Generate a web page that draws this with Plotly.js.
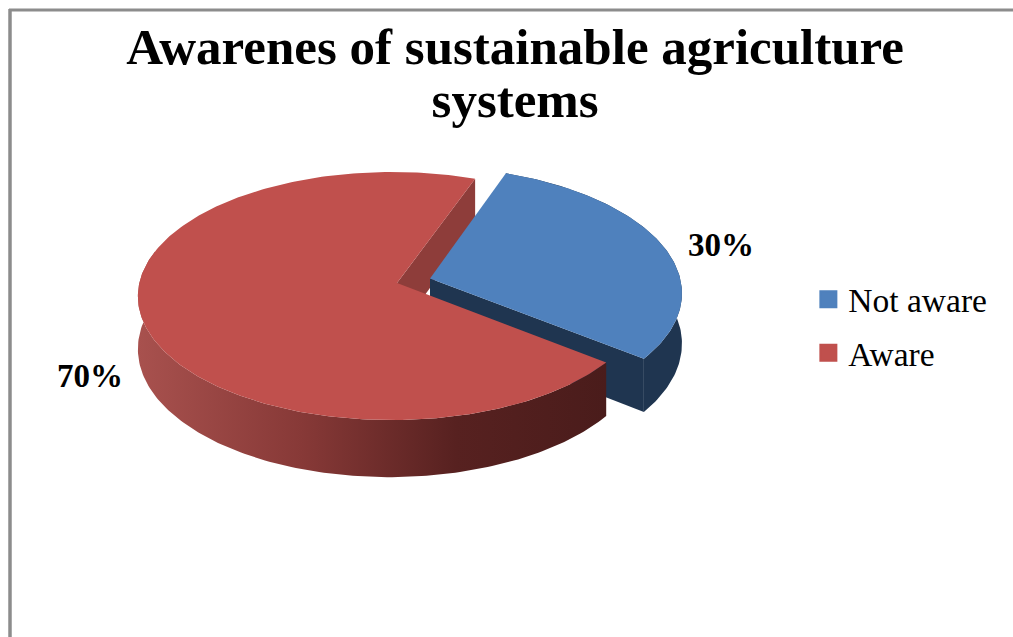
<!DOCTYPE html>
<html>
<head>
<meta charset="utf-8">
<script src="https://cdn.plot.ly/plotly-3.0.1.min.js"></script>
<style>html,body{margin:0;padding:0;background:#fff}#chart{width:1013px;height:637px}</style>
</head>
<body>
<div id="chart"></div>
<script>
// Survey shares
const categories = ['Not aware', 'Aware'];
const shares = [30, 70];

const chartTitle = 'Awarenes of sustainable agriculture<br>systems';
const topColors = ['#4f81bd', '#c0504d'];
const serif = '"Liberation Serif", serif';

// Tilted disc seen in perspective: plane coordinates -> axis coordinates
const view = {cx: 397, cy: 283, rx: 252.5, ry: 122.7, depthSkew: 0.105, sideSkew: 0.02, thickness: 51};
const firstSliceStart = 70;      // degrees, slices run clockwise
const pullOut = 0.137;           // explode distance of the first slice
const pulledScale = 1.02;        // the pulled-out slice sits nearer the viewer
const frontEdge = -195;          // rim wall of the large slice is hidden past this angle

function project(X, Y, drop) {
  const w = 1 + view.depthSkew * Y + view.sideSkew * X;
  return [view.cx + view.rx * X / w, view.cy - view.ry * Y / w + (drop ? view.thickness / w : 0)];
}

// Angular extents derived from the shares
const total = shares.reduce((a, b) => a + b, 0);
let cursor = firstSliceStart;
const slices = shares.map(v => {
  const sweep = v / total * 360;
  const s = {from: cursor, to: cursor - sweep};
  cursor -= sweep;
  return s;
});

function rad(d) { return d * Math.PI / 180; }
function rimPoints(slice, offset, drop, scale) {
  const pts = [];
  const steps = Math.ceil(Math.abs(slice.from - slice.to));
  for (let i = 0; i <= steps; i++) {
    const a = rad(slice.from + (slice.to - slice.from) * i / steps);
    pts.push(project(scale * Math.cos(a) + offset[0], scale * Math.sin(a) + offset[1], drop));
  }
  return pts;
}
function poly(pts, extra) {
  return Object.assign({
    type: 'scatter', mode: 'lines', fill: 'toself',
    x: pts.map(p => p[0]), y: pts.map(p => p[1]),
    line: {width: 0}, hoverinfo: 'skip', showlegend: false
  }, extra);
}

const bisector = rad((slices[0].from + slices[0].to) / 2);
const offset = [pullOut * Math.cos(bisector), pullOut * Math.sin(bisector)];
const still = [0, 0];

const blueTop = rimPoints(slices[0], offset, false, pulledScale);
const blueBottom = rimPoints(slices[0], offset, true, pulledScale);
const blueApex = project(offset[0], offset[1], false);
const blueApexLow = project(offset[0], offset[1], true);
const redTop = rimPoints(slices[1], still, false, 1);
const redApex = project(0, 0, false);
const redApexLow = project(0, 0, true);
const redFront = {from: slices[1].from, to: frontEdge};
const redFrontTop = rimPoints(redFront, still, false, 1);
const redFrontBottom = rimPoints(redFront, still, true, 1);
const redCutEnd = redTop[redTop.length - 1];
const redCutEndLow = project(Math.cos(rad(slices[1].to)), Math.sin(rad(slices[1].to)), true);

const traces = [
  // inner cut face of the large slice
  poly([redApex, redCutEnd, redCutEndLow, redApexLow], {fillcolor: '#8e3d3a'}),
  // pulled-out slice: rim wall, cut wall, top
  poly(blueTop.concat(blueBottom.slice().reverse()), {fillcolor: '#1f3550'}),
  poly([blueApex, blueTop[blueTop.length - 1], blueBottom[blueBottom.length - 1], blueApexLow], {fillcolor: '#1f3550'}),
  poly([blueApex].concat(blueTop), {fillcolor: topColors[0]}),
  // large slice: rim wall with side lighting, then top
  poly(redFrontTop.concat(redFrontBottom.slice().reverse()), {
    fillcolor: '#8a3b38',
    fillgradient: {type: 'horizontal', colorscale: [[0, '#a8514e'], [0.35, '#873937'], [0.68, '#572120'], [1, '#4a1c1b']]}
  }),
  poly([redApex].concat(redTop), {fillcolor: topColors[1]}),
  // percentage labels
  {
    type: 'scatter', mode: 'text',
    x: [721, 90], y: [248, 379],
    text: shares.map(v => v + '%'),
    textposition: 'middle center',
    textfont: {family: serif, size: 33, color: '#000', weight: 'bold'},
    hoverinfo: 'skip', showlegend: false
  }
];

// legend entries
categories.forEach((name, i) => traces.push({
  type: 'scatter', mode: 'markers', name: name, legendgroup: name,
  x: [null], y: [null],
  marker: {symbol: 'square', size: 16, color: topColors[i], line: {width: 2, color: topColors[i]}}
}));

const layout = {
  width: 1013, height: 637,
  margin: {l: 0, r: 0, t: 0, b: 0},
  paper_bgcolor: '#fff', plot_bgcolor: '#fff',
  title: {
    text: chartTitle,
    font: {family: serif, size: 51, color: '#000', weight: 'bold'},
    x: 0.5085, xanchor: 'center', y: 0.9, yanchor: 'middle', automargin: false
  },
  xaxis: {range: [0, 1013], visible: false, fixedrange: true},
  yaxis: {range: [637, 0], visible: false, fixedrange: true},
  legend: {
    x: 0.798, xanchor: 'left', y: 0.4875, yanchor: 'middle',
    font: {family: serif, size: 33.5, color: '#000'},
    tracegroupgap: 7, bgcolor: 'rgba(0,0,0,0)', itemwidth: 30, traceorder: 'grouped'
  },
  shapes: [
    {type: 'line', xref: 'x', yref: 'y', x0: 10, x1: 10, y0: 9, y1: 637, line: {color: '#8c8c8c', width: 3.5}},
    {type: 'line', xref: 'x', yref: 'y', x0: 9, x1: 1013, y0: 10, y1: 10, line: {color: '#8c8c8c', width: 3}}
  ]
};

Plotly.newPlot('chart', traces, layout, {displayModeBar: false, staticPlot: true}).then(() => {
  // tighten the title's line spacing
  const lines = document.querySelectorAll('.gtitle tspan.line');
  if (lines.length > 1) lines[1].setAttribute('dy', '53px');
});
</script>
</body>
</html>
